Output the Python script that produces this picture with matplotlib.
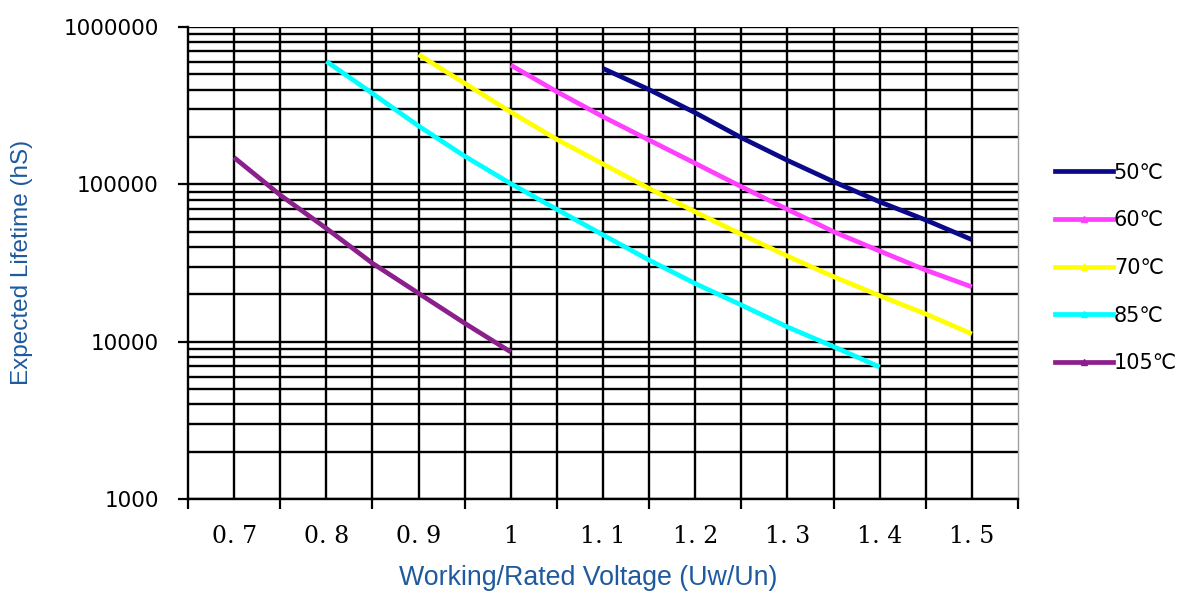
import numpy as np
import matplotlib
matplotlib.use("Agg")
import matplotlib.pyplot as plt
from matplotlib.ticker import FixedLocator, LogLocator, NullFormatter, FuncFormatter
from matplotlib.lines import Line2D

# ---- data ----
x50 = [1.10, 1.15, 1.20, 1.25, 1.30, 1.35, 1.40, 1.45, 1.50]
y50 = [545000, 400000, 285000, 198000, 142000, 104000, 77400, 59300, 44500]

x60 = [1.00, 1.05, 1.10, 1.15, 1.20, 1.25, 1.30, 1.35, 1.40, 1.45, 1.50]
y60 = [572000, 388000, 269000, 191000, 136000, 96600, 69300, 50000, 37700, 28500, 22300]

x70 = [0.90, 0.95, 1.00, 1.05, 1.10, 1.15, 1.20, 1.25, 1.30, 1.35, 1.40, 1.45, 1.50]
y70 = [668000, 439000, 288000, 193000, 134600, 94200, 66900, 48100, 35000, 25900, 19600, 15000, 11200]

x85 = [0.80, 0.85, 0.90, 0.95, 1.00, 1.05, 1.10, 1.15, 1.20, 1.25, 1.30, 1.35, 1.40]
y85 = [605000, 378000, 235000, 151000, 101000, 69300, 47700, 33000, 23400, 17100, 12400, 9300, 6900]

x105 = [0.70, 0.75, 0.80, 0.85, 0.90, 0.95, 1.00]
y105 = [148000, 85500, 52500, 31500, 20300, 13100, 8600]

series_labels = ["50℃", "60℃", "70℃", "85℃", "105℃"]
series_colors = ["#0A0A88", "#FF40FF", "#FFFF00", "#00FFFF", "#8B1F8B"]
series_x = [x50, x60, x70, x85, x105]
series_y = [y50, y60, y70, y85, y105]

xtick_values = [0.7, 0.8, 0.9, 1.0, 1.1, 1.2, 1.3, 1.4, 1.5]
xtick_labels = ["0. 7", "0. 8", "0. 9", "1", "1. 1", "1. 2", "1. 3", "1. 4", "1. 5"]
ytick_values = [1000, 10000, 100000, 1000000]
ytick_labels = ["1000", "10000", "100000", "1000000"]

# ---- figure ----
fig = plt.figure(figsize=(11.85, 5.92), dpi=100)
ax = fig.add_axes([188/1185, 1-499/592, (1018-188)/1185, (499-27)/592])

for xs, ys, c in zip(series_x, series_y, series_colors):
    ax.plot(xs, ys, color=c, lw=3.4, solid_capstyle="butt", zorder=3)

ax.set_yscale("log")
ax.set_xlim(0.65, 1.55)
ax.set_ylim(1000, 1000000)

# x axis: gridlines every 0.05, labels at 0.1, tick marks at category boundaries
grid_x = np.round(np.arange(0.70, 1.5001, 0.05), 2)
ax.xaxis.set_major_locator(FixedLocator(grid_x))
lab_map = {round(v, 2): s for v, s in zip(xtick_values, xtick_labels)}
ax.xaxis.set_major_formatter(FuncFormatter(lambda v, p: lab_map.get(round(v, 2), "")))
ax.xaxis.set_minor_locator(FixedLocator(np.round(np.arange(0.65, 1.5501, 0.1), 2)))
ax.xaxis.remove_overlapping_locs = False
ax.tick_params(axis="x", which="major", length=0, pad=19)
ax.tick_params(axis="x", which="minor", length=7, width=1.6, direction="out", color="black")
for lab in ax.get_xticklabels():
    lab.set_fontfamily("DejaVu Serif")
    lab.set_fontsize(17)

# y axis
ax.yaxis.set_major_locator(FixedLocator(ytick_values))
ax.yaxis.set_major_formatter(FuncFormatter(lambda v, p: ytick_labels[ytick_values.index(int(round(v)))] if int(round(v)) in ytick_values else ""))
ax.yaxis.set_minor_locator(LogLocator(base=10, subs=np.arange(2, 10)))
ax.yaxis.set_minor_formatter(NullFormatter())
ax.tick_params(axis="y", which="major", length=7, width=1.6, direction="out", pad=14, labelsize=15.5)
ax.tick_params(axis="y", which="minor", length=0)

ax.grid(True, which="major", axis="x", color="black", lw=1.7)
ax.grid(True, which="both", axis="y", color="black", lw=1.7)
ax.set_axisbelow(True)

for s in ["left", "bottom"]:
    ax.spines[s].set_color("black")
    ax.spines[s].set_linewidth(1.7)
ax.spines["top"].set_visible(False)
ax.spines["right"].set_color("#a0a0a0")
ax.spines["right"].set_linewidth(1.0)

axis_blue = "#1F5A9E"
fig.text(22/1185, 1-262/592, "Expected Lifetime (hS)", rotation=90, ha="center", va="center",
         color=axis_blue, fontsize=17.5, family="Liberation Sans")
fig.text(588/1185, 1-578/592, "Working/Rated Voltage (Uw/Un)", ha="center", va="center",
         color=axis_blue, fontsize=19.3, family="Liberation Sans")

# legend
markers = [None, "^", "^", "^", "^"]
handles = [Line2D([], [], color=c, lw=3.4, marker=m, markersize=4) for c, m in zip(series_colors, markers)]
leg = ax.legend(handles, series_labels, loc="center left", bbox_to_anchor=(1045/1185, 1-268/592),
                bbox_transform=fig.transFigure, frameon=False, handlelength=2.75, handletextpad=0.05,
                labelspacing=1.33, borderpad=0, prop={"family": ["DejaVu Sans", "Noto Sans CJK SC"], "size": 15})

fig.savefig("out.png", dpi=100)
